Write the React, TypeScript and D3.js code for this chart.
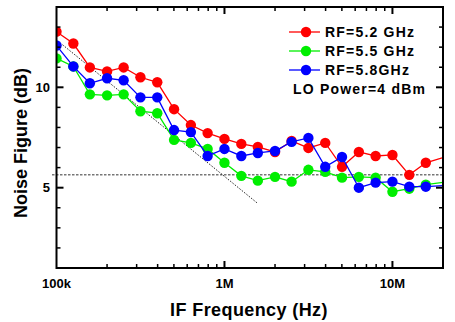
import React from "react";
import * as d3 from "d3";

const freqs = [
  1e5, 1.26e5, 1.58e5, 2e5, 2.51e5, 3.16e5, 3.98e5, 5.01e5, 6.31e5, 7.94e5,
  1e6, 1.26e6, 1.58e6, 2e6, 2.51e6, 3.16e6, 3.98e6, 5.01e6, 6.31e6, 7.94e6,
  1e7, 1.26e7, 1.58e7, 2e7,
];
const rf52 = [
  12.77, 12.18, 10.99, 10.79, 10.99, 10.5, 10.25, 8.91, 8.12, 7.72, 7.43, 7.18,
  7.03, 6.78, 7.33, 6.98, 7.23, 6.04, 6.78, 6.58, 6.63, 5.64, 6.24, 6.5,
];
const rf55 = [
  11.44, 11.04, 9.65, 9.6, 9.65, 8.81, 8.71, 7.38, 7.23, 6.93, 6.24, 5.59, 5.35,
  5.54, 5.3, 5.89, 5.79, 5.5, 5.54, 5.5, 4.8, 4.95, 5.15, 5.27,
];
const rf58 = [
  12.08, 11.04, 10.2, 10.45, 10.35, 9.5, 9.5, 7.87, 7.77, 6.58, 6.93, 6.58, 6.73,
  6.83, 7.28, 7.48, 6.04, 6.53, 5.0, 5.25, 5.3, 5.05, 5.05, 5.1,
];
const seriesNames = ["RF=5.2 GHz", "RF=5.5 GHz", "RF=5.8GHz"];
const seriesColors = ["#ff0000", "#00ee00", "#0000ff"];
const xTickLabels = [
  { v: 1e5, t: "100k" },
  { v: 1e6, t: "1M" },
  { v: 1e7, t: "10M" },
];
const yTickLabels = [5, 10];
const refLevel = 5.64;
const slopeLine = [
  { f: 1.086e5, v: 12.12 },
  { f: 1.56e6, v: 4.25 },
];
const loText = "LO Power=4 dBm";

const W = 455;
const H = 322;
const L = 56.5;
const R = 443;
const T = 7;
const B = 268;
const FONT = "Arial, 'Liberation Sans', sans-serif";

export default function App() {
  const x = d3.scaleLog().domain([1e5, 2e7]).range([L, R]);
  const y = d3.scaleLinear().domain([1, 14]).range([B, T]);
  const series = [rf52, rf55, rf58];

  const line = d3
    .line<number>()
    .x((_, i) => x(freqs[i]))
    .y((d) => y(d));

  const minorX: number[] = [];
  [1e5, 1e6, 1e7].forEach((dec) => {
    for (let m = 2; m <= 9; m++) {
      const v = dec * m;
      if (v < 2e7) minorX.push(v);
    }
  });
  const yTicks = d3.range(2, 14);

  return (
    <svg
      width={W}
      height={H}
      style={{ position: "absolute", left: 0, top: 0, background: "#fff" }}
      fontFamily={FONT}
    >
      <defs>
        <clipPath id="plotclip">
          <rect x={L} y={T} width={R - L} height={B - T} />
        </clipPath>
      </defs>

      {/* reference lines */}
      <line
        x1={52}
        x2={R}
        y1={y(refLevel)}
        y2={y(refLevel)}
        stroke="#333"
        strokeWidth={1}
        strokeDasharray="2.5,1.5"
      />
      <line
        x1={x(slopeLine[0].f)}
        y1={y(slopeLine[0].v)}
        x2={x(slopeLine[1].f)}
        y2={y(slopeLine[1].v)}
        stroke="#222"
        strokeWidth={1}
        strokeDasharray="1.5,1.5"
      />

      {/* series */}
      <g clipPath="url(#plotclip)">
        {series.map((s, si) => (
          <g key={si}>
            <path d={line(s) || ""} fill="none" stroke={seriesColors[si]} strokeWidth={1.3} />
            {s.map((v, i) =>
              freqs[i] < 2e7 ? (
                <circle key={i} cx={x(freqs[i])} cy={y(v)} r={5.2} fill={seriesColors[si]} />
              ) : null
            )}
          </g>
        ))}
      </g>

      {/* frame */}
      <rect x={L} y={T} width={R - L} height={B - T} fill="none" stroke="#000" strokeWidth={2} />

      {/* x ticks */}
      {minorX.map((v) => (
        <g key={v}>
          <line x1={x(v)} x2={x(v)} y1={B} y2={B - 4} stroke="#000" strokeWidth={1.5} />
          <line x1={x(v)} x2={x(v)} y1={T} y2={T + 4} stroke="#000" strokeWidth={1.5} />
        </g>
      ))}
      {[1e6, 1e7].map((v) => (
        <g key={v}>
          <line x1={x(v)} x2={x(v)} y1={B} y2={B - 7} stroke="#000" strokeWidth={2} />
          <line x1={x(v)} x2={x(v)} y1={T} y2={T + 7} stroke="#000" strokeWidth={2} />
        </g>
      ))}
      {xTickLabels.map((d) => (
        <text
          key={d.t}
          x={x(d.v)}
          y={288}
          textAnchor="middle"
          fontSize={13}
          fontWeight="bold"
        >
          {d.t}
        </text>
      ))}

      {/* y ticks */}
      {yTicks.map((v) => {
        const major = v % 5 === 0;
        const len = major ? 7 : 4;
        return (
          <g key={v}>
            <line x1={L} x2={L + len} y1={y(v)} y2={y(v)} stroke="#000" strokeWidth={major ? 2 : 1.5} />
            <line x1={R} x2={R - len} y1={y(v)} y2={y(v)} stroke="#000" strokeWidth={major ? 2 : 1.5} />
          </g>
        );
      })}
      {yTickLabels.map((v) => (
        <text
          key={v}
          x={50}
          y={y(v) + 4.5}
          textAnchor="end"
          fontSize={13}
          fontWeight="bold"
        >
          {v}
        </text>
      ))}

      {/* axis titles */}
      <text
        x={249}
        y={316}
        textAnchor="middle"
        fontSize={18}
        fontWeight="bold"
        letterSpacing={0.4}
      >
        IF Frequency (Hz)
      </text>
      <text
        transform={`translate(27,143) rotate(-90)`}
        textAnchor="middle"
        fontSize={18}
        fontWeight="bold"
      >
        Noise Figure (dB)
      </text>

      {/* legend */}
      {seriesNames.map((n, i) => {
        const ly = [32, 51, 70][i];
        return (
          <g key={n}>
            <line x1={289} x2={320} y1={ly} y2={ly} stroke={seriesColors[i]} strokeWidth={1.3} />
            <circle cx={306} cy={ly} r={5.2} fill={seriesColors[i]} />
            <text x={325} y={ly + 5} fontSize={14} fontWeight="bold" letterSpacing={1.2}>
              {n}
            </text>
          </g>
        );
      })}
      <text x={293} y={94} fontSize={14} fontWeight="bold" letterSpacing={1.2}>
        {loText}
      </text>
    </svg>
  );
}
